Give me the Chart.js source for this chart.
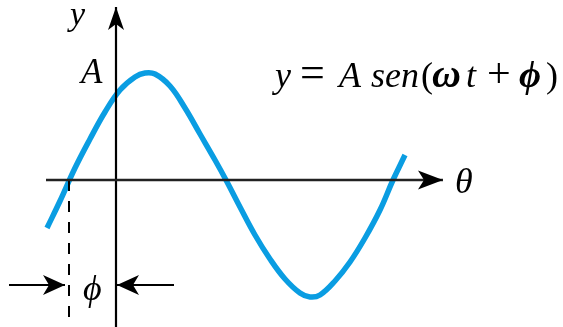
<!DOCTYPE html>
<html>
<head>
<meta charset="utf-8">
<script src="https://cdn.jsdelivr.net/npm/chart.js@4"></script>
<style>
html,body{margin:0;padding:0;background:#fff;}
#c{display:block;}
</style>
</head>
<body>
<canvas id="c" width="563" height="327"></canvas>
<script>
// curve (theta units, y units), y-axis at theta=0
let curveX=[-69,-56,-41,-26,-11,4,19,29,39,54,69,84,99,110,124,139,154,169,184,194,204,219,234,249,264,277,289];
let curveY=[-48,-21,12,41,68,90,103,107,106,94,72,46,20,0,-27,-55,-79,-99,-113,-117,-115,-101,-82,-58,-30,0,25];

// axes and phase marker
let xAxisSpan=[-70,327];
let yAxisSpan=[-147,173];
let phaseX=-47;
let phaseSpan=[0,-137];
let phiY=-105;
let phiLeft=[-107,-51];
let phiRight=[58,1];

let blue="#0a9de2";
let serif='"Liberation Serif","DejaVu Serif",serif';

function pts(xs,ys){return xs.map((x,i)=>({x:x,y:ys[i]}));}

// notched arrow head, tip at (x,y), pointing along angle a
function arrowHead(ctx,x,y,a,len,half,notch){
    ctx.save();
    ctx.translate(x,y); ctx.rotate(a);
    ctx.beginPath();
    ctx.moveTo(0,0);
    ctx.lineTo(-len,-half);
    ctx.lineTo(-len+notch,0);
    ctx.lineTo(-len,half);
    ctx.closePath();
    ctx.fillStyle="#000"; ctx.fill();
    ctx.restore();
}

let extras={
  id:"extras",
  afterDatasetsDraw(chart){
    let ctx=chart.ctx, sx=chart.scales.x, sy=chart.scales.y;
    let px=v=>sx.getPixelForValue(v), py=v=>sy.getPixelForValue(v);
    arrowHead(ctx,px(xAxisSpan[1]),py(0),0,25,9.5,6);
    arrowHead(ctx,px(0),py(yAxisSpan[1]),-Math.PI/2,23,8,6);
    arrowHead(ctx,px(phiLeft[1]),py(phiY),0,22,10,6);
    arrowHead(ctx,px(phiRight[1]),py(phiY),Math.PI,22,10,6);

    ctx.save();
    ctx.fillStyle="#000";
    ctx.textBaseline="alphabetic";
    ctx.textAlign="left";
    ctx.font="italic 34px "+serif; ctx.fillText("y",70,25);
    ctx.font="italic 35px "+serif; ctx.fillText("A",81,83);
    ctx.font="italic 36px "+serif; ctx.fillText("θ",455,193);
    ctx.font="italic 36px "+serif; ctx.fillText("ϕ",83,300);

    // y = A sen(ωt + ϕ)
    let eq=[
      ["y","italic 36px",275],["=","44px",300],["A","italic 36px",339],["sen","italic 36px",371],
      ["(","36px",421],["ω","italic bold 40px",432],["t","italic 36px",466],["+","42px",487],
      ["ϕ","italic bold 38px",519],[")","36px",546]
    ];
    eq.forEach(p=>{
      ctx.font=p[1]+" "+serif;
      ctx.fillText(p[0],p[2],87);
    });
    ctx.restore();
  }
};

function draw(){
  new Chart(document.getElementById("c"),{
    type:"scatter",
    data:{datasets:[
      {data:pts(xAxisSpan,[0,0]),showLine:true,borderColor:"#222",borderWidth:2.5,pointRadius:0},
      {data:pts([0,0],yAxisSpan),showLine:true,borderColor:"#000",borderWidth:2.2,pointRadius:0},
      {data:pts([phaseX,phaseX],phaseSpan),showLine:true,borderColor:"#000",borderWidth:2,borderDash:[11,10],pointRadius:0},
      {data:pts(phiLeft,[phiY,phiY]),showLine:true,borderColor:"#000",borderWidth:2.2,pointRadius:0},
      {data:pts(phiRight,[phiY,phiY]),showLine:true,borderColor:"#000",borderWidth:2.2,pointRadius:0},
      {data:pts(curveX,curveY),showLine:true,borderColor:blue,borderWidth:5.5,tension:0.4,pointRadius:0,borderCapStyle:"butt"}
    ]},
    options:{
      responsive:false,animation:false,
      layout:{padding:0},
      plugins:{legend:{display:false},tooltip:{enabled:false}},
      scales:{
        x:{type:"linear",min:-116,max:447,display:false},
        y:{type:"linear",min:-147,max:180,display:false}
      }
    },
    plugins:[extras]
  });
}

Promise.all([
  document.fonts.load('italic 36px "Liberation Serif"'),
  document.fonts.load('italic bold 36px "Liberation Serif"'),
  document.fonts.load('36px "Liberation Serif"')
]).then(draw,draw);
</script>
</body>
</html>
